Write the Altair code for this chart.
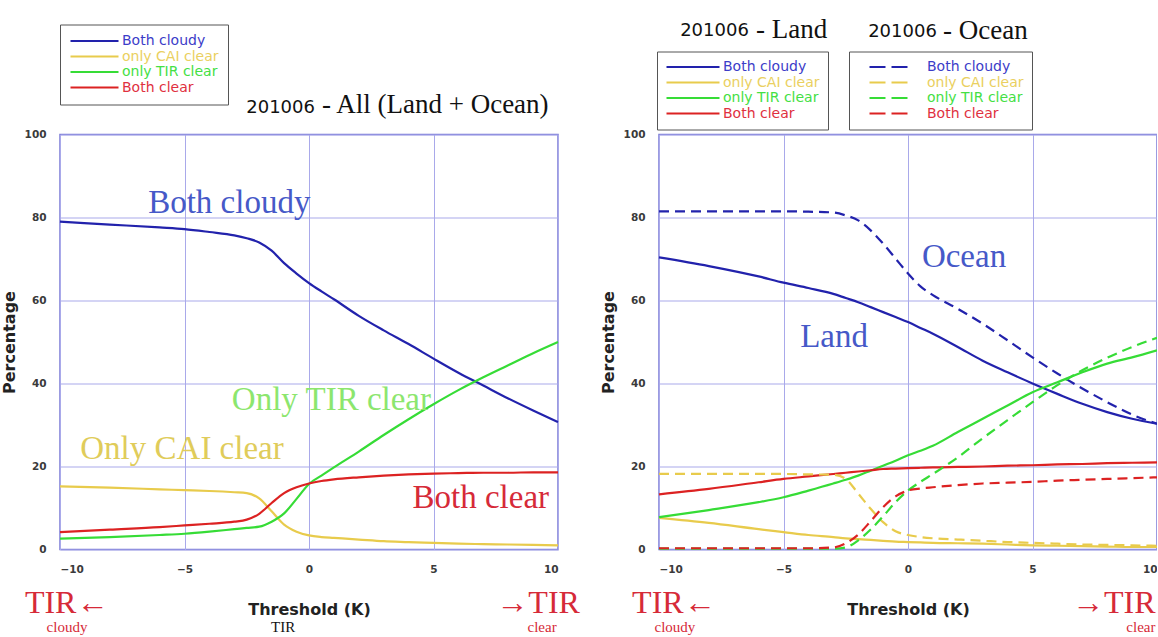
import altair as alt
import pandas as pd

# Cloud-mask agreement versus TIR threshold, June 2010
thresholds = [-10, -8, -6, -5, -4, -3, -2.5, -2, -1.5, -1, -0.5, 0, 0.5,
              1, 2, 3, 4, 5, 6, 7, 8, 9, 10]
categories = ["Both cloudy", "only CAI clear", "only TIR clear", "Both clear"]

# All (Land + Ocean)
all_both_cloudy = [79.0, 78.3, 77.6, 77.2, 76.5, 75.7, 75.0, 74.0, 72.0, 69.0, 66.5, 64.2, 62.2,
                   60.3, 56.3, 52.8, 49.5, 46.0, 42.6, 39.5, 36.4, 33.5, 30.7]
all_only_cai = [15.2, 14.9, 14.5, 14.3, 14.1, 13.8, 13.6, 12.3, 9.2, 6.0, 4.3, 3.4, 3.0,
                2.8, 2.4, 2.0, 1.8, 1.6, 1.4, 1.3, 1.2, 1.1, 1.0]
all_only_tir = [2.6, 3.0, 3.5, 3.8, 4.3, 4.9, 5.2, 5.5, 6.7, 8.7, 12.2, 15.8, 17.8,
                19.8, 23.6, 27.6, 31.4, 35.0, 38.4, 41.5, 44.4, 47.3, 50.0]
all_both_clear = [4.2, 4.8, 5.4, 5.8, 6.2, 6.7, 7.2, 8.6, 11.2, 13.6, 15.0, 15.9, 16.5,
                  16.9, 17.4, 17.8, 18.1, 18.3, 18.4, 18.5, 18.5, 18.6, 18.6]

# Land
land_both_cloudy = [70.4, 68.3, 65.8, 64.3, 63.0, 61.6, 60.6, 59.6, 58.4, 57.2, 56.0, 54.8, 53.4,
                    52.0, 48.8, 45.5, 42.7, 40.0, 37.5, 35.1, 33.1, 31.5, 30.3]
land_only_cai = [7.6, 6.4, 4.9, 4.2, 3.5, 3.0, 2.7, 2.5, 2.3, 2.1, 1.9, 1.8, 1.7,
                 1.6, 1.5, 1.4, 1.2, 1.0, 0.9, 0.8, 0.7, 0.6, 0.6]
land_only_tir = [7.8, 9.5, 11.4, 12.6, 14.2, 15.9, 16.8, 17.8, 19.0, 20.2, 21.4, 22.7, 23.8,
                 25.0, 28.3, 31.5, 34.7, 37.9, 40.3, 42.7, 44.8, 46.3, 48.0]
land_both_clear = [13.3, 14.6, 16.2, 17.0, 17.6, 18.2, 18.5, 18.8, 19.1, 19.4, 19.5, 19.6, 19.7,
                   19.8, 19.9, 20.0, 20.2, 20.3, 20.5, 20.6, 20.8, 20.9, 21.0]

# Ocean
ocean_both_cloudy = [81.5, 81.5, 81.5, 81.5, 81.4, 81.2, 80.5, 79.3, 76.9, 73.7, 70.1, 66.5, 63.4,
                     61.3, 58.0, 54.4, 50.4, 46.3, 42.4, 38.8, 35.5, 32.5, 30.3]
ocean_only_cai = [18.2, 18.2, 18.2, 18.2, 18.1, 18.0, 17.0, 13.5, 9.8, 6.6, 4.4, 3.5, 3.0,
                  2.7, 2.4, 2.1, 1.8, 1.6, 1.4, 1.2, 1.1, 1.0, 0.9]
ocean_only_tir = [0.2, 0.2, 0.2, 0.2, 0.2, 0.2, 0.5, 2.2, 4.8, 8.0, 11.4, 14.2, 16.3,
                  18.2, 22.2, 26.8, 31.2, 35.5, 39.6, 43.2, 46.2, 48.8, 51.0]
ocean_both_clear = [0.3, 0.3, 0.3, 0.3, 0.3, 0.5, 1.5, 3.6, 6.8, 10.2, 12.8, 14.2, 14.7,
                    15.0, 15.5, 15.9, 16.1, 16.3, 16.6, 16.8, 17.0, 17.2, 17.4]

line_colors = ["#2222ac", "#e8cb4c", "#36dc36", "#dc2222"]
legend_label_colors = ["#3c3cc8", "#ead060", "#44e044", "#e03040"]


def long_table(series):
    rows = []
    for name, values in zip(categories, series):
        for t, v in zip(thresholds, values):
            rows.append({"threshold": t, "percentage": v, "category": name})
    return pd.DataFrame(rows)


all_df = long_table([all_both_cloudy, all_only_cai, all_only_tir, all_both_clear])
land_df = long_table([land_both_cloudy, land_only_cai, land_only_tir, land_both_clear])
ocean_df = long_table([ocean_both_cloudy, ocean_only_cai, ocean_only_tir, ocean_both_clear])

label_color_expr = ""
for name, col in zip(categories[:-1], legend_label_colors[:-1]):
    label_color_expr += f"datum.value === '{name}' ? '{col}' : "
label_color_expr += f"'{legend_label_colors[-1]}'"

PLOT_W, PLOT_H = 498, 415

x_scale = alt.Scale(domain=[-10, 10], nice=False, zero=False)
y_scale = alt.Scale(domain=[0, 100], nice=False)

axis_style = dict(labelFont="DejaVu Sans", labelFontSize=10.5, labelFontWeight="bold",
                  labelColor="#3a3a3a", tickSize=0, domain=False,
                  grid=True, gridColor="#a9a9ea", gridWidth=1,
                  titleFont="DejaVu Sans", titleFontSize=16, titleFontWeight="bold",
                  titleColor="#222222")

x_axis = alt.Axis(values=[-10, -5, 0, 5, 10], format="d", title="Threshold (K)",
                  labelPadding=15, titlePadding=26, **axis_style)
y_axis = alt.Axis(values=[0, 20, 40, 60, 80, 100], format="d", title="Percentage",
                  labelPadding=14, titlePadding=7, **axis_style)


def box_legend(x, y, length, label_offset=2, symbol_offset=0, dash=None, padding=9):
    opts = dict(orient="none", legendX=x, legendY=y, title=None,
                symbolType="stroke", symbolSize=length * length, symbolStrokeWidth=2.2,
                symbolOffset=symbol_offset, clipHeight=15, rowPadding=0.5,
                labelFont="DejaVu Sans", labelFontSize=14,
                labelColor={"expr": label_color_expr}, labelOffset=label_offset,
                padding=padding, strokeColor="#555555", fillColor="white")
    if dash:
        opts["symbolDash"] = dash
    return alt.Legend(**opts)


def lines(df, legend, dash=None):
    mark = dict(strokeWidth=2.2, interpolate="monotone")
    if dash:
        mark["strokeDash"] = dash
    return alt.Chart(df).mark_line(**mark).encode(
        x=alt.X("threshold:Q", scale=x_scale, axis=x_axis),
        y=alt.Y("percentage:Q", scale=y_scale, axis=y_axis),
        color=alt.Color("category:N", sort=categories,
                        scale=alt.Scale(domain=categories, range=line_colors),
                        legend=legend),
    )


one_row = alt.Data(values=[{}])


def note(text, x, y, color, size, font="Liberation Serif", align="center",
         baseline="middle"):
    return alt.Chart(one_row).mark_text(
        text=text, color=color, fontSize=size, font=font, align=align,
        baseline=baseline,
    ).encode(x=alt.datum(x), y=alt.datum(y))


RED = "#d62a38"
BLUE_TXT = "#4659c8"
INK = "#111111"
ARROW_Y = -13.0
FOOT_Y = -20.7
LABEL_SIZE = 33
ARROW_SIZE = 32
FOOT_SIZE = 15

left = alt.layer(
    lines(all_df, box_legend(0, -110, 48)),
    note("Both cloudy", -3.2, 83.6, BLUE_TXT, LABEL_SIZE),
    note("Only CAI clear", -5.1, 24.1, "#e0cc5a", LABEL_SIZE),
    note("Only TIR clear", 0.9, 36.1, "#8ce66e", LABEL_SIZE),
    note("Both clear", 6.9, 12.5, RED, LABEL_SIZE),
    note("201006", 0.24, 106.5, INK, 18, font="DejaVu Sans", align="right"),
    note("- All (Land + Ocean)", 0.52, 107, INK, 27, align="left"),
    note("TIR\u2190", -11.41, ARROW_Y, RED, ARROW_SIZE, align="left"),
    note("\u2192TIR", 10.88, ARROW_Y, RED, ARROW_SIZE, align="right"),
    note("cloudy", -9.72, FOOT_Y, RED, FOOT_SIZE, baseline="bottom"),
    note("TIR", -1.04, FOOT_Y, INK, FOOT_SIZE, baseline="bottom"),
    note("clear", 9.36, FOOT_Y, RED, FOOT_SIZE, baseline="bottom"),
).properties(width=PLOT_W, height=PLOT_H)

right = alt.layer(
    lines(land_df, box_legend(-2, -83, 53, padding=8)),
    lines(ocean_df, box_legend(190, -83, 40, label_offset=16, symbol_offset=11,
                               dash=[16, 6], padding=8), dash=[10, 6]),
    note("Ocean", 2.25, 70.4, BLUE_TXT, LABEL_SIZE),
    note("Land", -2.97, 51.1, BLUE_TXT, LABEL_SIZE),
    note("201006", -6.39, 125, INK, 18, font="DejaVu Sans", align="right"),
    note("- Land", -6.1, 125.3, INK, 27, align="left"),
    note("201006", 1.16, 124.6, INK, 18, font="DejaVu Sans", align="right"),
    note("- Ocean", 1.41, 124.9, INK, 27, align="left"),
    note("TIR\u2190", -11.08, ARROW_Y, RED, ARROW_SIZE, align="left"),
    note("\u2192TIR", 9.94, ARROW_Y, RED, ARROW_SIZE, align="right"),
    note("cloudy", -9.36, FOOT_Y, RED, FOOT_SIZE, baseline="bottom"),
    note("clear", 9.94, FOOT_Y, RED, FOOT_SIZE, align="right", baseline="bottom"),
).resolve_scale(color="independent").properties(width=PLOT_W, height=PLOT_H)

chart = alt.hconcat(left, right, spacing=101, bounds="flush").properties(
    padding={"left": 0, "top": 14.5, "right": -6, "bottom": 0},
    background="white",
).configure_view(stroke="#7b7bd6", strokeWidth=1.5)

chart.save("out.html", embed_options={"renderer": "svg", "actions": False})
